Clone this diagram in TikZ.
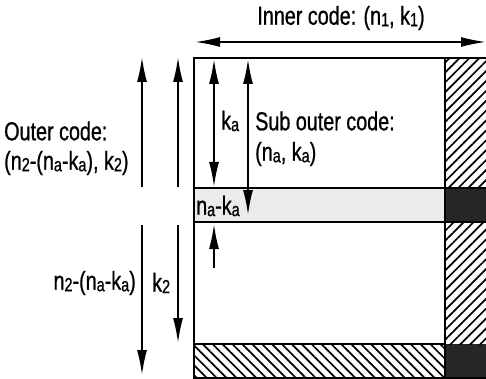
\documentclass[tikz,border=0pt]{standalone}
\usepackage{fontspec}
\setmainfont{Liberation Sans}[FakeStretch=0.76,FakeBold=0.8]
\usetikzlibrary{arrows.meta,patterns.meta}
\newcommand\subs[1]{\raisebox{-1.5pt}{\fontsize{19}{19}\selectfont #1}}
\begin{document}
\begin{tikzpicture}[x=1pt,y=-1pt,
  lbl/.style={inner sep=0pt, font=\fontsize{26}{28}\selectfont},
  tipA/.tip={Latex[length=25pt,width=10pt]},
  arr/.style={line width=1.8pt, -tipA},
  darr/.style={line width=1.8pt, tipA-tipA},
  frame/.style={line width=2.3pt},
  hatchR/.style={pattern={Lines[angle=45,distance=7pt,line width=1.7pt]}},
  hatchL/.style={pattern={Lines[angle=-45,distance=7pt,line width=1.7pt]}},
  light/.style={fill=black!8},
  dark/.style={fill=black!85}]
\useasboundingbox (0,0) rectangle (486,379);
% cells
\fill[light] (194,188) rectangle (445,222);
\fill[dark] (445,188) rectangle (486,222);
\fill[dark] (445,344) rectangle (486,378);
\fill[hatchR] (445,58) rectangle (486,188);
\fill[hatchR] (445,222) rectangle (486,344);
\fill[hatchL] (194,344) rectangle (445,378);
% frame lines
\draw[frame] (486,58) -- (194,58) -- (194,378) -- (486,378);
\draw[frame] (194,188) -- (486,188);
\draw[frame] (194,222) -- (486,222);
\draw[frame] (194,344) -- (445,344);
\draw[frame] (445,58) -- (445,378);
% labels
\node[lbl] (inner) at (341,18) {Inner code: (n\subs{1}, k\subs{1})};
\node[lbl, anchor=west] (outer) at (4,131) {Outer code:};
\node[lbl, anchor=west] (outerp) at (4,163) {(n\subs{2}-(n\subs{a}-k\subs{a}), k\subs{2})};
\node[lbl, anchor=east] (n2l) at (136,283) {n\subs{2}-(n\subs{a}-k\subs{a})};
\node[lbl, anchor=west] (k2l) at (152,283) {k\subs{2}};
\node[lbl, anchor=west] (kal) at (221,121) {k\subs{a}};
\node[lbl, anchor=west] (sub) at (255,121) {Sub outer code:};
\node[lbl, anchor=west] (subp) at (255,154) {(n\subs{a}, k\subs{a})};
\node[lbl, anchor=west] (nakal) at (196,206) {n\subs{a}-k\subs{a}};
% arrow end points
\coordinate (ia) at (195,42); \coordinate (ib) at (486,42);
\coordinate (l1b) at (142,187); \coordinate (l1t) at (142,57);
\coordinate (l2b) at (178,187); \coordinate (l2t) at (178,57);
\coordinate (l3t) at (142,225); \coordinate (l3b) at (142,375);
\coordinate (l4t) at (178,225); \coordinate (l4b) at (178,343);
\coordinate (kat) at (214,59); \coordinate (kab) at (214,187);
\coordinate (sot) at (248,59); \coordinate (sob) at (248,215);
\coordinate (lob) at (214,268); \coordinate (lot) at (214,224);
% arrows
\draw[darr] (ia) -- (ib);
\draw[arr] (l1b) -- (l1t);
\draw[arr] (l2b) -- (l2t);
\draw[arr] (l3t) -- (l3b);
\draw[arr] (l4t) -- (l4b);
\draw[darr] (kat) -- (kab);
\draw[darr] (sot) -- (sob);
\draw[arr] (lob) -- (lot);
\end{tikzpicture}
\end{document}
